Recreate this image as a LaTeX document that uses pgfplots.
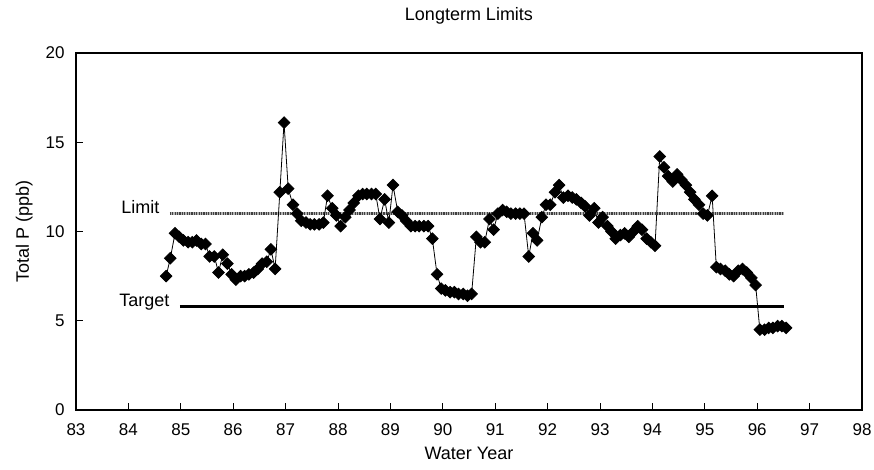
\documentclass[border=0pt]{standalone}
\usepackage{fontspec}
\setmainfont{Liberation Sans}
\usepackage{pgfplots}
\pgfplotsset{compat=1.18}
\usepackage{pgfplotstable}

\pgfplotstableread{
x y
84.72 7.5
84.80 8.5
84.89 9.9
84.97 9.7
85.05 9.5
85.14 9.4
85.22 9.4
85.30 9.5
85.39 9.3
85.47 9.3
85.55 8.6
85.64 8.6
85.72 7.7
85.80 8.7
85.89 8.2
85.97 7.6
86.05 7.3
86.14 7.5
86.22 7.5
86.30 7.6
86.39 7.7
86.47 7.9
86.55 8.2
86.64 8.3
86.72 9.0
86.80 7.9
86.89 12.2
86.97 16.1
87.05 12.4
87.14 11.5
87.22 11.0
87.30 10.6
87.39 10.5
87.47 10.4
87.55 10.4
87.64 10.4
87.72 10.5
87.80 12.0
87.89 11.3
87.97 10.9
88.05 10.3
88.14 10.8
88.22 11.2
88.30 11.6
88.39 12.0
88.47 12.1
88.55 12.1
88.64 12.1
88.72 12.1
88.80 10.7
88.89 11.8
88.97 10.5
89.05 12.6
89.14 11.1
89.22 10.9
89.30 10.6
89.39 10.3
89.47 10.3
89.55 10.3
89.64 10.3
89.72 10.3
89.80 9.6
89.89 7.6
89.97 6.8
90.05 6.7
90.14 6.6
90.22 6.6
90.30 6.5
90.39 6.5
90.47 6.4
90.55 6.5
90.64 9.7
90.72 9.4
90.80 9.4
90.89 10.7
90.97 10.1
91.05 11.0
91.14 11.2
91.22 11.1
91.30 11.0
91.39 11.0
91.47 11.0
91.55 11.0
91.64 8.6
91.72 9.9
91.80 9.5
91.89 10.8
91.97 11.5
92.05 11.5
92.14 12.2
92.22 12.6
92.30 11.9
92.39 12.0
92.47 11.9
92.55 11.8
92.64 11.6
92.72 11.4
92.80 10.9
92.89 11.3
92.97 10.5
93.05 10.8
93.14 10.3
93.22 10.0
93.30 9.6
93.39 9.8
93.47 9.9
93.55 9.7
93.64 10.0
93.72 10.3
93.80 10.1
93.89 9.6
93.97 9.4
94.05 9.2
94.14 14.2
94.22 13.6
94.30 13.1
94.39 12.8
94.47 13.2
94.55 12.9
94.64 12.6
94.72 12.2
94.80 11.8
94.89 11.5
94.97 11.0
95.05 10.9
95.14 12.0
95.22 8.0
95.30 7.9
95.39 7.8
95.47 7.6
95.55 7.5
95.64 7.8
95.72 7.9
95.80 7.7
95.89 7.4
95.97 7.0
96.05 4.5
96.14 4.5
96.22 4.6
96.30 4.6
96.39 4.7
96.47 4.7
96.55 4.6
}\tp

\begin{document}
\begin{tikzpicture}
\begin{axis}[name=ax,
  scale only axis, width=786pt, height=357pt,
  xmin=83, xmax=98, ymin=0, ymax=20,
  xtick={83,84,...,98}, ytick={0,5,10,15,20},
  tick pos=left, tick align=inside, major tick length=7pt,
  axis line style={line width=2pt},
  every tick/.style={black, line width=1pt},
  /pgf/number format/assume math mode=true,
  ticklabel style={font=\fontsize{17}{20}\selectfont},
  xticklabel style={yshift=-10pt},
  yticklabel style={xshift=-8pt},
  title={Longterm Limits},
  title style={at={(axis description cs:0.5,1.0756)}, anchor=base, font=\fontsize{18}{21}\selectfont},
  xlabel={Water Year},
  xlabel style={at={(axis description cs:0.5,-0.14)}, anchor=base, font=\fontsize{18}{21}\selectfont},
  ylabel={Total P (ppb)},
  ylabel style={at={(axis description cs:-0.066,0.5)}, anchor=center, rotate=0, font=\fontsize{18}{21}\selectfont},
  clip=false]
\addplot[color=black!30, line width=2.5pt, forget plot] coordinates {(84.79,11) (96.51,11)};
\addplot[color=black!75, line width=2.5pt, dash pattern=on 1.2pt off 1.2pt, forget plot] coordinates {(84.79,11) (96.51,11)};
\addplot[black, line width=2.5pt, forget plot] coordinates {(84.98,5.8) (96.51,5.8)};
\addplot[black, line width=0.8pt, mark=square*, mark size=4.1pt, mark options={rotate=45, solid, fill=black}] table {\tp};
\node[anchor=base east, font=\fontsize{18}{21}\selectfont] at (axis cs:84.66,11) {Limit};
\node[anchor=base east, font=\fontsize{18}{21}\selectfont] at (axis cs:84.85,5.8) {Target};
\end{axis}
\pgfresetboundingbox
\path ([shift={(-76pt,-60pt)}]ax.south west) rectangle ([shift={(12pt,53pt)}]ax.north east);
\end{tikzpicture}
\end{document}
